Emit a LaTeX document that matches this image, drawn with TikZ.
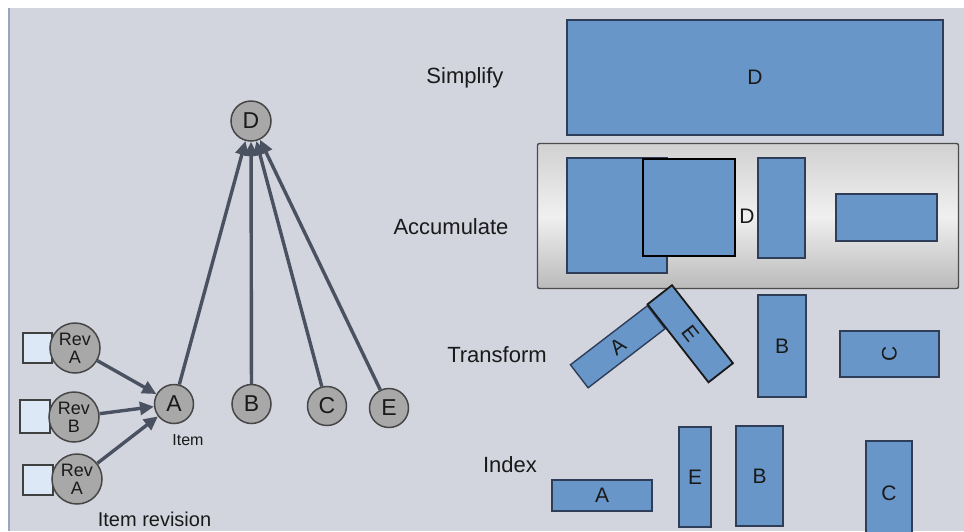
\documentclass[tikz,border=0pt]{standalone}
\usepackage{fontspec}
\setmainfont{Liberation Sans}
\usetikzlibrary{arrows.meta}
\definecolor{bg}{HTML}{D2D4DE}
\definecolor{blk}{HTML}{6896C8}
\definecolor{blkline}{HTML}{2E3D58}
\definecolor{circfill}{HTML}{A8A8A8}
\definecolor{circline}{HTML}{464646}
\definecolor{edgecol}{HTML}{4A5262}
\definecolor{sqfill}{HTML}{DCE8F5}
\definecolor{txt}{HTML}{1A1A1A}
\definecolor{rimline}{HTML}{9AA6C0}
\begin{document}
\begin{tikzpicture}[x=1pt,y=-1pt,
  lbl/.style={text=txt, font=\fontsize{22}{26}\selectfont, inner sep=0},
  blkbox/.style={draw=blkline, line width=1.4pt, fill=blk, inner sep=0,
    font=\fontsize{21}{24}\selectfont, text=txt},
  itemnode/.style={circle, draw=circline, line width=1.5pt, fill=circfill,
    minimum size=39pt, inner sep=0, font=\fontsize{23}{26}\selectfont, text=txt},
  revnode/.style={circle, draw=circline, line width=1.5pt, fill=circfill,
    minimum size=50pt, inner sep=0, align=center,
    font=\fontsize{18}{18}\selectfont, text=txt},
  revbox/.style={draw=black!75, line width=1.4pt, fill=sqfill, inner sep=0},
  link/.style={draw=edgecol, line width=3.4pt, -{Triangle[length=14pt,width=13pt]}},
]
\useasboundingbox (0,0) rectangle (964,531);
\clip (0,0) rectangle (964,531);

% canvas
\fill[white] (0,0) rectangle (964,531);
\fill[bg] (8,8) rectangle (964,531);
\draw[rimline, line width=1.5pt] (8.75,8) -- (8.75,531);

% ---------- left: items and revisions ----------
\node[revbox, minimum width=29pt, minimum height=30pt] (sq1) at (37.5,348) {};
\node[revbox, minimum width=30pt, minimum height=33pt] (sq2) at (35,416.5) {};
\node[revbox, minimum width=30pt, minimum height=30pt] (sq3) at (38,480) {};

\node[revnode] (revA1) at (75,348) {Rev\\A};
\node[revnode] (revB)  at (74,417) {Rev\\B};
\node[revnode] (revA2) at (77,479) {Rev\\A};

\node[itemnode, minimum size=40pt] (D) at (251,121) {D};
\node[itemnode] (A) at (174,404) {A};
\node[itemnode] (B) at (251.5,404) {B};
\node[itemnode] (C) at (327,406) {C};
\node[itemnode] (E) at (389,408) {E};

\draw[link] (revA1) -- (A);
\draw[link] (revB) -- (A);
\draw[link] (revA2) -- (A);
\draw[link] (A) -- (D);
\draw[link] (B) -- (D);
\draw[link] (C) -- (D);
\draw[link] (E) -- (D);

\node[text=txt, font=\fontsize{16}{18}\selectfont, inner sep=0] (itemlbl) at (188,440) {Item};
\node[text=txt, font=\fontsize{20}{24}\selectfont, inner sep=0] (revlbl) at (154.5,519) {Item revision};

% ---------- right: stage labels ----------
\node[lbl] (simplify)   at (465,78)  {Simplify};
\node[lbl] (accumulate) at (451,227) {Accumulate};
\node[lbl] (transform)  at (497,355) {Transform};
\node[lbl] (index)      at (510,465) {Index};

% Simplify
\node[blkbox, minimum width=376pt, minimum height=115pt] (simpD) at (755,77.5) {D};

% Accumulate
\node[draw=black!70, line width=1.4pt, rounded corners=2pt,
  top color=black!18, bottom color=black!27, middle color=white!94!black,
  minimum width=421pt, minimum height=145pt, inner sep=0] (accbox) at (748,216) {};
\node[blkbox, minimum width=100pt, minimum height=115pt] (accL) at (617,215.5) {};
\node[blkbox, draw=black, line width=2pt, minimum width=92pt, minimum height=97pt] (accSq) at (689,207.5) {};
\node[text=txt, font=\fontsize{21}{24}\selectfont, inner sep=0] (accD) at (747,216) {D};
\node[blkbox, minimum width=47pt, minimum height=100pt] (accT) at (781.5,208) {};
\node[blkbox, minimum width=101pt, minimum height=47pt] (accW) at (886.5,217.5) {};

% Transform
\node[blkbox, minimum width=97pt, minimum height=29pt, rotate=37.5] (trA) at (617.75,346.75) {A};
\node[blkbox, draw=black!90, line width=1.8pt, minimum width=99pt, minimum height=31pt, rotate=-52] (trE) at (690.25,333.75) {E};
\node[blkbox, minimum width=48pt, minimum height=102pt] (trB) at (782,346) {B};
\node[blkbox, minimum width=99pt, minimum height=46pt] (trC) at (889.5,354) {\rotatebox{90}{C}};

% Index
\node[blkbox, minimum width=100pt, minimum height=31pt] (ixA) at (602,495.5) {A};
\node[blkbox, minimum width=32pt, minimum height=100pt] (ixE) at (695,477) {E};
\node[blkbox, minimum width=47pt, minimum height=100pt] (ixB) at (759.5,476) {B};
\node[blkbox, minimum width=46pt, minimum height=104pt] (ixC) at (889,493) {C};
\end{tikzpicture}
\end{document}
